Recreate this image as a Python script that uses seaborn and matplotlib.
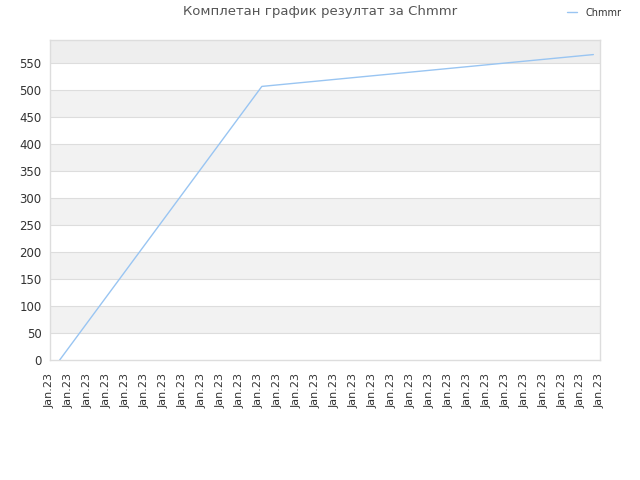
import numpy as np
import pandas as pd
import matplotlib
matplotlib.use('Agg')
import matplotlib.pyplot as plt
import seaborn as sns

# data
tick_labels = ['Jan.23'] * 30
run_pos = [0.51, 11.17, 28.65]      # position along the x axis (tick units)
scores = [0, 507, 566]
series_name = 'Chmmr'
title = 'Комплетан график резултат за Chmmr'

df = pd.DataFrame({'pos': run_pos, 'score': scores})

sns.set_style('white')
plt.rcParams['font.family'] = ['DejaVu Sans']

fig = plt.figure(figsize=(6.4, 4.8), dpi=100)
ax = fig.add_axes([50 / 640, 120 / 480, 550 / 640, 320 / 480])

ymax = 593
# alternating bands
band_edges = list(range(0, 600, 50))
for i, lo in enumerate(band_edges):
    hi = min(lo + 50, ymax)
    if lo >= 550:
        ax.axhspan(lo, hi, color='#eeeeee', lw=0, zorder=0)
    elif i % 2 == 1:
        ax.axhspan(lo, hi, color='#f2f2f2', lw=0, zorder=0)
for y in range(50, 600, 50):
    ax.axhline(y, color='#dddddd', lw=0.8, zorder=1)

sns.lineplot(data=df, x='pos', y='score', ax=ax, color='#99c5f2', lw=1,
             label=series_name, zorder=3)

ax.set_xlim(0, 29)
ax.set_ylim(0, ymax)
ax.set_xticks(range(30))
ax.set_xticklabels(tick_labels, rotation=90, fontsize=8, color='#333333')
ax.set_yticks(range(0, 600, 50))
ax.tick_params(axis='y', labelsize=8.5, labelcolor='#333333', length=0, pad=6)
ax.tick_params(axis='x', length=0, pad=9)
ax.set_xlabel('')
ax.set_ylabel('')
for s in ax.spines.values():
    s.set_color('#dddddd')
    s.set_linewidth(1)

fig.text(0.5, 0.975, title, ha='center', va='center', fontsize=9.5, color='#555555')
leg = ax.legend(loc='center right', bbox_to_anchor=(1.055, 1.085), frameon=False,
                fontsize=7, handlelength=1.0, handletextpad=0.9)
for t in leg.get_texts():
    t.set_color('#333333')

fig.savefig('out.png', dpi=100)
